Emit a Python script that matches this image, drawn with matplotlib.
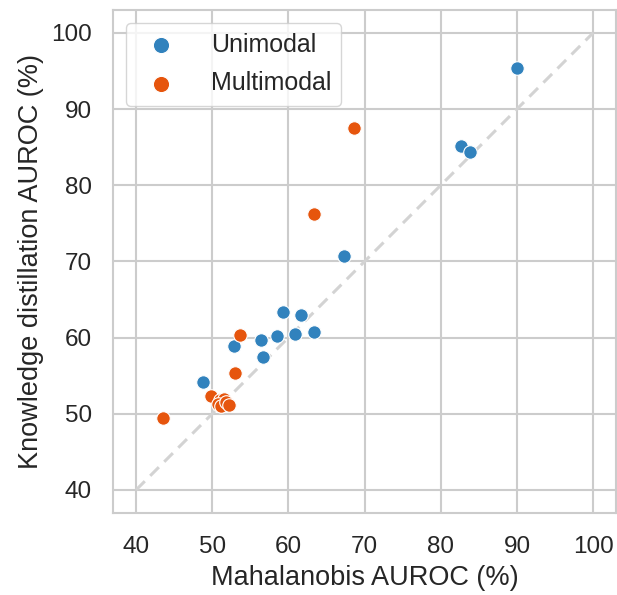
import numpy as np
import matplotlib.pyplot as plt
import seaborn as sns

sns.set_theme(style='whitegrid')
plt.rcParams['font.family'] = ['Liberation Sans', 'DejaVu Sans']

# Unimodal (Mahalanobis, Knowledge distillation)
uni_x = [90.0, 82.6, 83.8, 67.3, 59.3, 61.7, 56.4, 58.5, 60.9, 63.3, 52.9, 56.7, 48.8]
uni_y = [95.4, 85.2, 84.3, 70.7, 63.4, 62.9, 59.7, 60.2, 60.4, 60.7, 58.9, 57.5, 54.1]

# Multimodal
multi_x = [68.6, 63.4, 53.6, 53.0, 49.8, 43.5, 51.0, 51.5, 50.8, 51.2, 51.8, 52.2]
multi_y = [87.5, 76.2, 60.3, 55.3, 52.3, 49.4, 51.8, 51.9, 51.3, 51.0, 51.5, 51.2]

c_uni = '#3182bd'
c_multi = '#e6550d'

fig = plt.figure(figsize=(6.17, 5.95), dpi=100)
ax = fig.add_axes([113.3/617, (595-512.7)/595, (616-113.3)/617, (512.7-10)/595])

ax.plot([40, 100], [40, 100], '--', color='#d3d3d3', lw=2.2, zorder=1, dashes=(4, 2.5))
ax.scatter(uni_x, uni_y, s=95, color=c_uni, edgecolor='white', linewidth=0.8, label='Unimodal', zorder=3)
ax.scatter(multi_x, multi_y, s=95, color=c_multi, edgecolor='white', linewidth=0.8, label='Multimodal', zorder=3)

ax.set_xlim(37, 103)
ax.set_ylim(37, 103)
ax.set_xticks(np.arange(40, 101, 10))
ax.set_yticks(np.arange(40, 101, 10))
ax.tick_params(labelsize=17.5, colors='#262626')
ax.tick_params(axis='x', pad=10.5)
ax.tick_params(axis='y', pad=9.5)
for s in ax.spines.values():
    s.set_color('#cccccc')
    s.set_linewidth(1.5)
ax.grid(color='#cccccc', linewidth=1.5)

ax.set_xlabel('Mahalanobis AUROC (%)', fontsize=19.5, color='#262626', labelpad=5)
ax.set_ylabel('Knowledge distillation AUROC (%)', fontsize=19.5, color='#262626', labelpad=5)
ax.legend(loc='upper left', fontsize=18, markerscale=1.2, labelspacing=0.6, handletextpad=1.0)

fig.savefig('out.png', dpi=100)
